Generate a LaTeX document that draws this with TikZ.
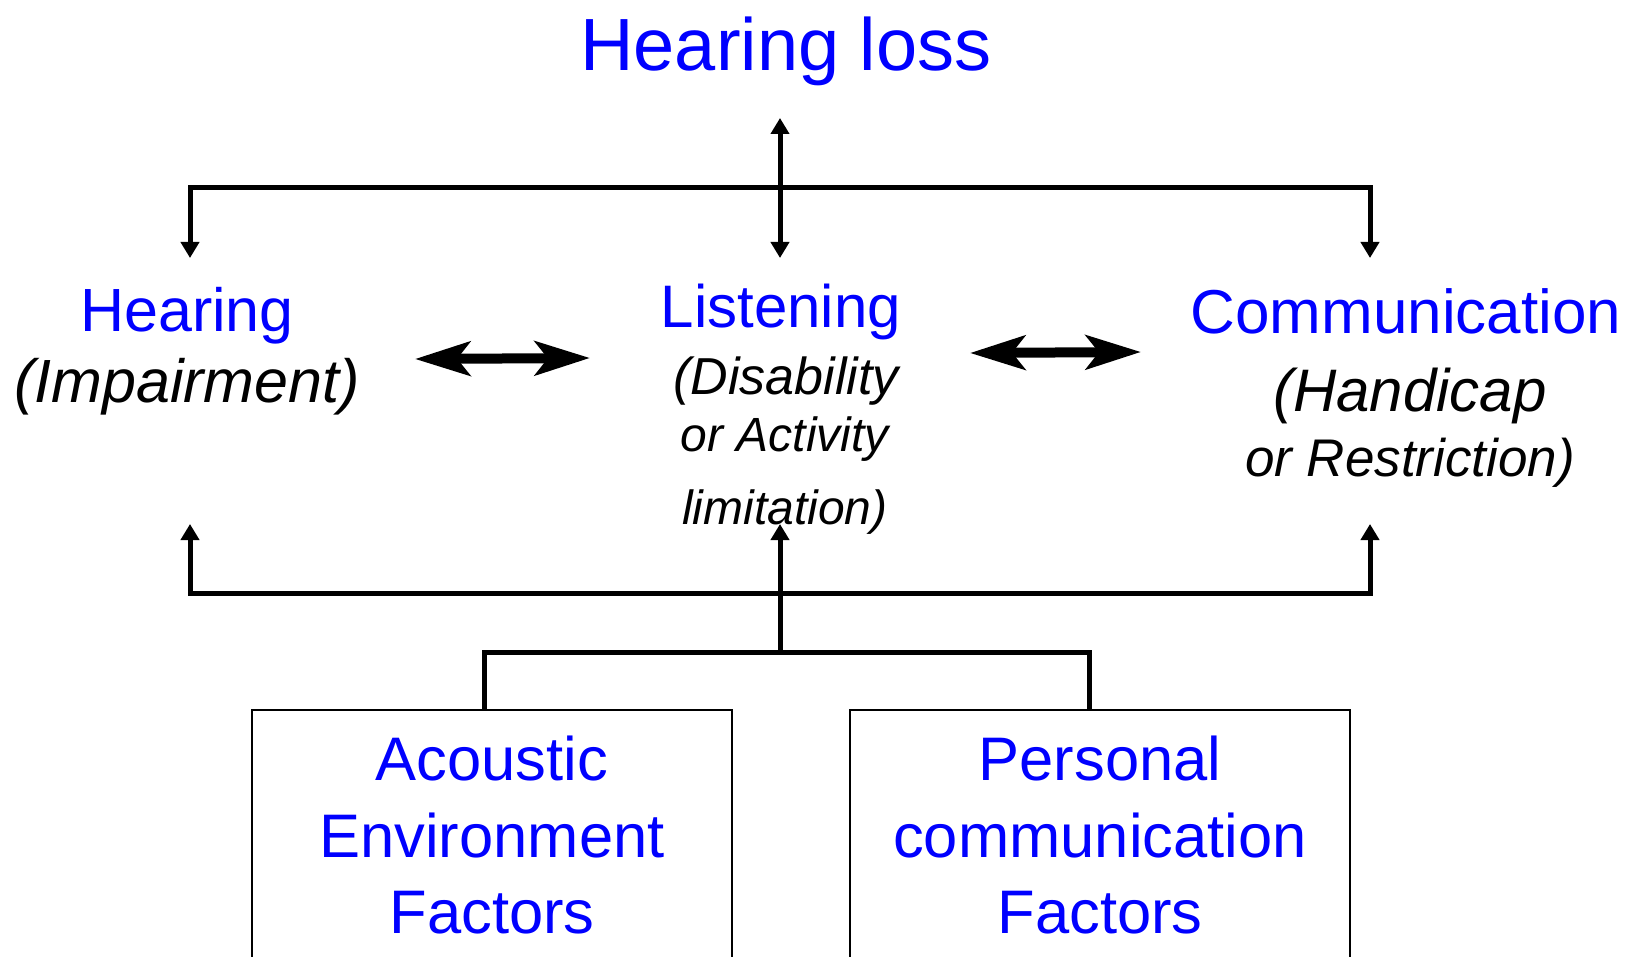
\documentclass[tikz,border=0pt]{standalone}
\usepackage{fontspec}
\setmainfont{Liberation Sans}
\usetikzlibrary{positioning,arrows.meta}

\begin{document}
\begin{tikzpicture}[x=1pt, y=-1pt,
    ttl/.style={text=blue, anchor=base, inner sep=0pt},
    sub/.style={anchor=base, inner sep=0pt},
    link/.style={line width=5pt},
    arr/.style={link, {Triangle[length=16pt,width=18pt]}-{Triangle[length=16pt,width=18pt]}},
    uparr/.style={link, -{Triangle[length=16pt,width=18pt]}},
    dbl/.style={line width=10pt, {Stealth[length=55pt,width=34pt,inset=13pt]}-{Stealth[length=55pt,width=34pt,inset=13pt]}},
    factor/.style={draw, line width=2pt, text=blue, align=center, anchor=north,
      minimum width=480pt, minimum height=251pt, font=\fontsize{61.5}{76.5}\selectfont},
  ]
  \useasboundingbox (0,0) rectangle (1626,957);

  \node[ttl, font=\fontsize{74}{89}\selectfont] (loss) at (786,71) {Hearing loss};

  \node[ttl, font=\fontsize{61}{73}\selectfont] (hearing) at (187,332) {Hearing};
  \node[sub, font=\fontsize{61}{73}\selectfont\itshape] (hearingsub) at (187,403) {(Impairment)};

  \node[ttl, font=\fontsize{60}{72}\selectfont] (listening) at (781,328) {Listening};
  \node[sub, font=\fontsize{52}{62}\selectfont\itshape] (listsuba) at (786,395) {(Disability};
  \node[sub, font=\fontsize{48}{58}\selectfont\itshape] (listsubb) at (785,452) {or Activity};
  \node[sub, font=\fontsize{48}{58}\selectfont\itshape] (listsubc) at (785,525) {limitation)};

  \node[ttl, font=\fontsize{62}{74}\selectfont] (comm) at (1406,334) {Communication};
  \node[sub, font=\fontsize{60}{72}\selectfont\itshape] (commsuba) at (1410,412) {(Handicap};
  \node[sub, font=\fontsize{53}{64}\selectfont\itshape] (commsubb) at (1410,477) {or Restriction)};

  \node[factor] (acoustic) at (492,709) {Acoustic\\Environment\\Factors};
  \node[factor, minimum width=500pt] (personal) at (1100,709) {Personal\\communication\\Factors};

  % verteiler oben und unten
  \coordinate (lossin) at (780,118);
  \coordinate (topmid) at (780,258);
  \coordinate (topl) at (190,188);
  \coordinate (topr) at (1370,188);
  \coordinate (hearin) at (190,258);
  \coordinate (commin) at (1370,258);
  \coordinate (botl) at (190,593);
  \coordinate (botr) at (1370,593);
  \coordinate (hearout) at (190,524);
  \coordinate (commout) at (1370,524);
  \coordinate (listout) at (780,524);
  \coordinate (fork) at (780,652);

  \draw[arr] (hearin) -- (topl) -- (topr) -- (commin);
  \draw[arr] (topmid) -- (lossin);
  \draw[arr] (hearout) -- (botl) -- (botr) -- (commout);
  \draw[link] ([xshift=-8pt]acoustic.north) |- (fork) -| ([xshift=-11pt]personal.north);
  \draw[uparr] (fork) -- (listout);

  \draw[dbl] (415,359) coordinate (da) -- (590,358);
  \draw[dbl] (970,353) coordinate (db) -- (1141,352);
\end{tikzpicture}
\end{document}
